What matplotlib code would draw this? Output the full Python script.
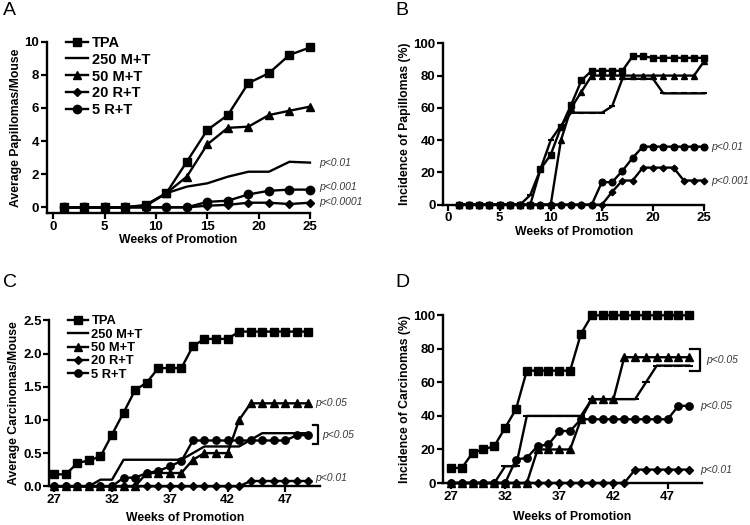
import matplotlib
matplotlib.use("Agg")
import matplotlib.pyplot as plt

plt.rcParams["font.family"] = ["Liberation Sans", "DejaVu Sans"]
plt.rcParams["font.weight"] = "bold"
plt.rcParams["axes.labelweight"] = "bold"

# ---- data ----
series_names = ["TPA", "250 M+T", "50 M+T", "20 R+T", "5 R+T"]

weeks_a = [1, 3, 5, 7, 9, 11, 13, 15, 17, 19, 21, 23, 25]
a_tpa = [0, 0, 0, 0, 0.15, 0.85, 2.75, 4.67, 5.57, 7.5, 8.1, 9.2, 9.65]
a_250 = [0, 0, 0, 0, 0.1, 0.85, 1.25, 1.45, 1.85, 2.15, 2.15, 2.75, 2.7]
a_50 = [0, 0, 0, 0, 0.1, 0.85, 1.85, 3.8, 4.8, 4.87, 5.57, 5.83, 6.08]
a_20 = [0, 0, 0, 0, 0, 0, 0, 0.1, 0.15, 0.28, 0.28, 0.2, 0.28]
a_5 = [0, 0, 0, 0, 0, 0, 0, 0.33, 0.4, 0.78, 1.0, 1.07, 1.07]

weeks_b = list(range(1, 26))
b_tpa = [0] * 8 + [22, 31, 48, 62, 77, 83, 83, 83, 83, 92, 92, 91, 91, 91, 91, 91, 91]
b_250 = [0] * 7 + [6, 22, 40, 49, 57, 57, 57, 57, 61, 78, 78, 78, 78, 69, 69, 69, 69, 69]
b_50 = [0] * 10 + [40, 60, 70, 80, 80, 80, 80, 80, 80, 80, 80, 80, 80, 80, 89]
b_20 = [0] * 15 + [8, 15, 15, 23, 23, 23, 23, 15, 15, 15]
b_5 = [0] * 14 + [14, 14, 21, 29, 36, 36, 36, 36, 36, 36, 36]

weeks_c = list(range(27, 50))
c_tpa = [0.18, 0.18, 0.35, 0.39, 0.45, 0.78, 1.11, 1.45, 1.56, 1.78, 1.78, 1.78,
         2.11, 2.22, 2.22, 2.22] + [2.33] * 7
c_250 = [0, 0, 0, 0, 0.1, 0.1] + [0.4] * 6 + [0.5, 0.6, 0.6, 0.6, 0.6, 0.7] + [0.8] * 5
c_50 = [0] * 8 + [0.2, 0.2, 0.2, 0.2, 0.4, 0.5, 0.5, 0.5, 1.0] + [1.25] * 6
c_20 = [0] * 17 + [0.08] * 6
c_5 = [0] * 6 + [0.13, 0.13, 0.2, 0.23, 0.3, 0.38] + [0.69] * 9 + [0.77, 0.77]

weeks_d = list(range(27, 50))
d_tpa = [9, 9, 18, 20, 22, 33, 44, 67, 67, 67, 67, 67, 89] + [100] * 10
d_250 = [0] * 5 + [10, 10] + [40] * 6 + [50] * 5 + [60] + [70] * 4
d_50 = [0] * 8 + [20, 20, 20, 20, 38, 50, 50, 50] + [75] * 7
d_20 = [0] * 17 + [8] * 6
d_5 = [0] * 6 + [14, 15, 22, 23, 31, 31] + [38] * 9 + [46, 46]

P_COLOR = "#3a3a3a"


def draw(ax, x, ys, msize, dash_250=False):
    tpa, m250, m50, r20, r5 = ys
    kw = dict(color="black", lw=1.7, clip_on=False)
    ax.plot(x, r20, marker="D", ms=msize * 0.7, zorder=3, label="20 R+T", **kw)
    ax.plot(x, m50, marker="^", ms=msize, zorder=4, label="50 M+T", **kw)
    if dash_250:
        ax.plot(x, m250, marker="_", ms=msize, mew=1.5, zorder=4.5, label="250 M+T", **kw)
    else:
        ax.plot(x, m250, zorder=4.5, label="250 M+T", **kw)
    ax.plot(x, r5, marker="o", ms=msize, zorder=5, label="5 R+T", **kw)
    ax.plot(x, tpa, marker="s", ms=msize, zorder=6, label="TPA", **kw)


def style(ax, ylabel, xlim, ylim, xticks, yticks, labelpad_x=0):
    ax.set_xlim(*xlim)
    ax.set_ylim(*ylim)
    ax.set_xticks(xticks)
    ax.set_yticks(yticks)
    for s in ["top", "right"]:
        ax.spines[s].set_visible(False)
    for s in ["left", "bottom"]:
        ax.spines[s].set_linewidth(1.7)
    ax.tick_params(direction="out", length=4, width=1.6, labelsize=9.5, pad=1.5)
    for lab in ax.get_xticklabels() + ax.get_yticklabels():
        lab.set_fontweight("bold")
    ax.set_xlabel("Weeks of Promotion", fontsize=8.8, labelpad=labelpad_x)
    ax.set_ylabel(ylabel, fontsize=8.8, labelpad=2)


def ptext(ax, x, y, s):
    ax.text(x, y, s, fontsize=7.5, style="italic", fontweight="normal",
            color=P_COLOR, va="center", ha="left", clip_on=False)


def bracket(ax, x0, x1, y0, y1):
    ax.plot([x0, x1, x1, x0], [y0, y0, y1, y1], color="black", lw=1.6, clip_on=False)


def add_legend(ax, anchor, size, spacing, hlen):
    h, l = ax.get_legend_handles_labels()
    order = [l.index(n) for n in series_names]
    ax.legend([h[i] for i in order], [l[i] for i in order], loc="upper left",
              bbox_to_anchor=anchor, frameon=False, fontsize=size, handlelength=hlen,
              handletextpad=0.3, labelspacing=spacing, borderaxespad=0, borderpad=0)


fig = plt.figure(figsize=(7.5, 5.25), dpi=100)

# Panel A
axA = fig.add_axes([0.0623, 0.5937, 0.351, 0.3269])
draw(axA, weeks_a, [a_tpa, a_250, a_50, a_20, a_5], 6)
style(axA, "Average Papillomas/Mouse", (-0.64, 25), (-0.36, 10),
      [0, 5, 10, 15, 20, 25], [0, 2, 4, 6, 8, 10], labelpad_x=1)
add_legend(axA, (0.075, 1.035), 10.5, 0.2, 1.45)
ptext(axA, 25.9, 2.7, "p<0.01")
ptext(axA, 25.9, 1.2, "p<0.001")
ptext(axA, 25.9, 0.3, "p<0.0001")

# Panel B
axB = fig.add_axes([0.591, 0.610, 0.348, 0.3075])
draw(axB, weeks_b, [b_tpa, b_250, b_50, b_20, b_5], 4.8, dash_250=True)
style(axB, "Incidence of Papillomas (%)", (-0.5, 25), (0, 100),
      [0, 5, 10, 15, 20, 25], [0, 20, 40, 60, 80, 100], labelpad_x=1)
ptext(axB, 25.7, 36, "p<0.01")
ptext(axB, 25.7, 15, "p<0.001")

# Panel C
axC = fig.add_axes([0.0657, 0.0737, 0.361, 0.3162])
draw(axC, weeks_c, [c_tpa, c_250, c_50, c_20, c_5], 5.3)
style(axC, "Average Carcinomas/Mouse", (26.57, 50), (0, 2.5),
      [27, 32, 37, 42, 47], [0, 0.5, 1.0, 1.5, 2.0, 2.5], labelpad_x=4)
add_legend(axC, (0.07, 1.03), 9.3, 0.1, 1.5)
ptext(axC, 49.6, 1.26, "p<0.05")
bracket(axC, 49.35, 49.85, 0.63, 0.92)
ptext(axC, 50.2, 0.78, "p<0.05")
ptext(axC, 49.6, 0.12, "p<0.01")

# Panel D
axD = fig.add_axes([0.5911, 0.08, 0.3445, 0.3194])
draw(axD, weeks_d, [d_tpa, d_250, d_50, d_20, d_5], 5.3, dash_250=True)
style(axD, "Incidence of Carcinomas (%)", (26.29, 50.15), (0, 100),
      [27, 32, 37, 42, 47], [0, 20, 40, 60, 80, 100], labelpad_x=6)
bracket(axD, 49.1, 50.0, 66.6, 80)
ptext(axD, 50.6, 73.5, "p<0.05")
ptext(axD, 50.0, 46, "p<0.05")
ptext(axD, 50.0, 7.5, "p<0.01")

for lbl, (x, y) in zip("ABCD", [(0.004, 0.997), (0.527, 0.997), (0.004, 0.479), (0.527, 0.479)]):
    fig.text(x, y, lbl, fontsize=14, fontweight="normal", va="top", ha="left")

fig.savefig("out.png", dpi=100)
